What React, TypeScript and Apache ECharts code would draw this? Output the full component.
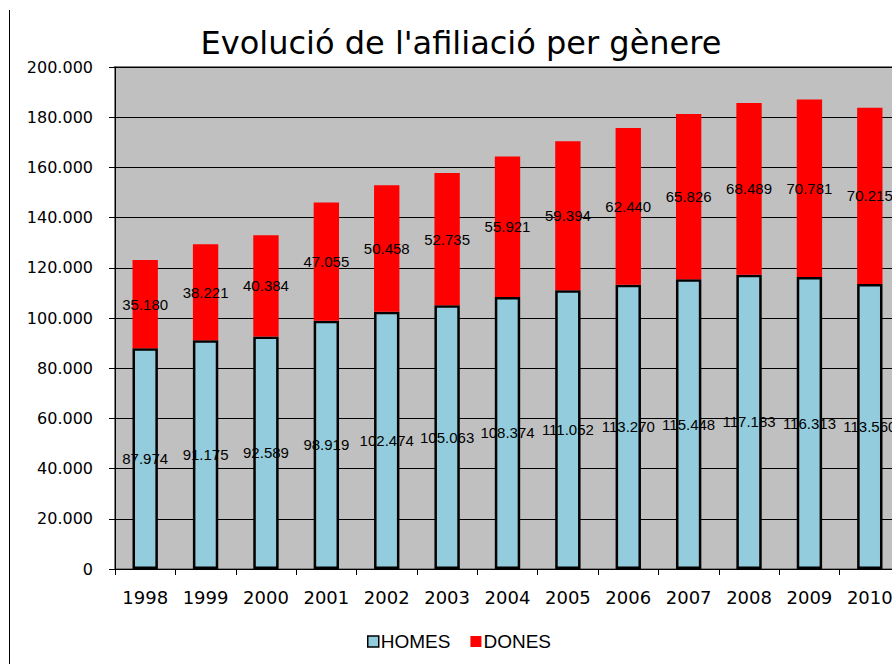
import React, { useEffect, useRef } from "react";
import * as echarts from "echarts";

const years = ["1998", "1999", "2000", "2001", "2002", "2003", "2004", "2005", "2006", "2007", "2008", "2009", "2010"];
const homes = [87974, 91175, 92589, 98919, 102474, 105063, 108374, 111052, 113270, 115448, 117183, 116313, 113560];
const dones = [35180, 38221, 40384, 47055, 50458, 52735, 55921, 59394, 62440, 65826, 68489, 70781, 70215];
const yTicks = [0, 20000, 40000, 60000, 80000, 100000, 120000, 140000, 160000, 180000, 200000];

const fmt = (v: number) => {
  if (v === 0) return "0";
  const s = String(Math.round(v));
  return s.replace(/\B(?=(\d{3})+(?!\d))/g, ".");
};

export default function App() {
  const ref = useRef<HTMLDivElement>(null);
  useEffect(() => {
    document.body.style.margin = "0";
    const chart = echarts.init(ref.current!, null, { renderer: "svg" });
    chart.setOption({
      animation: false,
      backgroundColor: "#ffffff",
      title: {
        text: "Evolució de l'afiliació per gènere",
        left: 456,
        textAlign: "center",
        top: 22,
        textStyle: { fontFamily: "DejaVu Sans", fontSize: 32, fontWeight: "normal", color: "#000" },
      },
      graphic: [
        { type: "line", shape: { x1: 9.5, y1: 10, x2: 9.5, y2: 664 }, style: { stroke: "#000", lineWidth: 1 } },
      ],
      legend: {
        bottom: 8,
        left: 362,
        itemWidth: 11,
        itemHeight: 11,
        itemGap: 20,
        icon: "rect",
        textStyle: { fontFamily: "Liberation Sans", fontSize: 19, color: "#000", padding: [0, 0, 0, -3] },
        data: [
          { name: "HOMES", itemStyle: { color: "#93CDDD", borderColor: "#000", borderWidth: 1.5 } },
          { name: "DONES", itemStyle: { color: "#FF0000" } },
        ],
      },
      grid: {
        left: 115,
        top: 67,
        width: 785,
        height: 502,
        show: true,
        backgroundColor: "#C0C0C0",
        borderColor: "#808080",
        borderWidth: 2,
      },
      xAxis: {
        type: "category",
        data: years,
        axisLine: { lineStyle: { color: "#000", width: 1 } },
        axisTick: { show: true, length: 6, lineStyle: { color: "#000" } },
        axisLabel: { margin: 19, fontFamily: "DejaVu Sans", fontSize: 18, color: "#000" },
      },
      yAxis: {
        type: "value",
        min: 0,
        max: 200000,
        interval: 20000,
        axisLine: { show: true, lineStyle: { color: "#000", width: 1 } },
        axisTick: { show: true, length: 6, lineStyle: { color: "#000" } },
        splitLine: { show: true, lineStyle: { color: "#000", width: 1 } },
        axisLabel: {
          margin: 22,
          fontFamily: "DejaVu Sans",
          fontSize: 16,
          color: "#000",
          formatter: (v: number) => (yTicks.includes(v) ? fmt(v) : ""),
        },
      },
      series: [
        {
          name: "HOMES",
          type: "bar",
          stack: "total",
          barWidth: "42%",
          data: homes,
          itemStyle: { color: "#93CDDD", borderColor: "#000", borderWidth: 2.5 },
          label: {
            show: true,
            position: "inside",
            formatter: (p: any) => fmt(p.value),
            fontFamily: "Liberation Sans",
            fontSize: 15,
            color: "#000",
          },
          labelLayout: { hideOverlap: false },
        },
        {
          name: "DONES",
          type: "bar",
          stack: "total",
          barWidth: "42%",
          data: dones,
          itemStyle: { color: "#FF0000" },
          label: {
            show: true,
            position: "inside",
            formatter: (p: any) => fmt(p.value),
            fontFamily: "Liberation Sans",
            fontSize: 15,
            color: "#000",
          },
        },
      ],
    });
    return () => chart.dispose();
  }, []);
  return (
    <div style={{ width: 892, height: 664, overflow: "hidden", position: "relative" }}>
      <div ref={ref} style={{ width: 910, height: 664 }} />
    </div>
  );
}
